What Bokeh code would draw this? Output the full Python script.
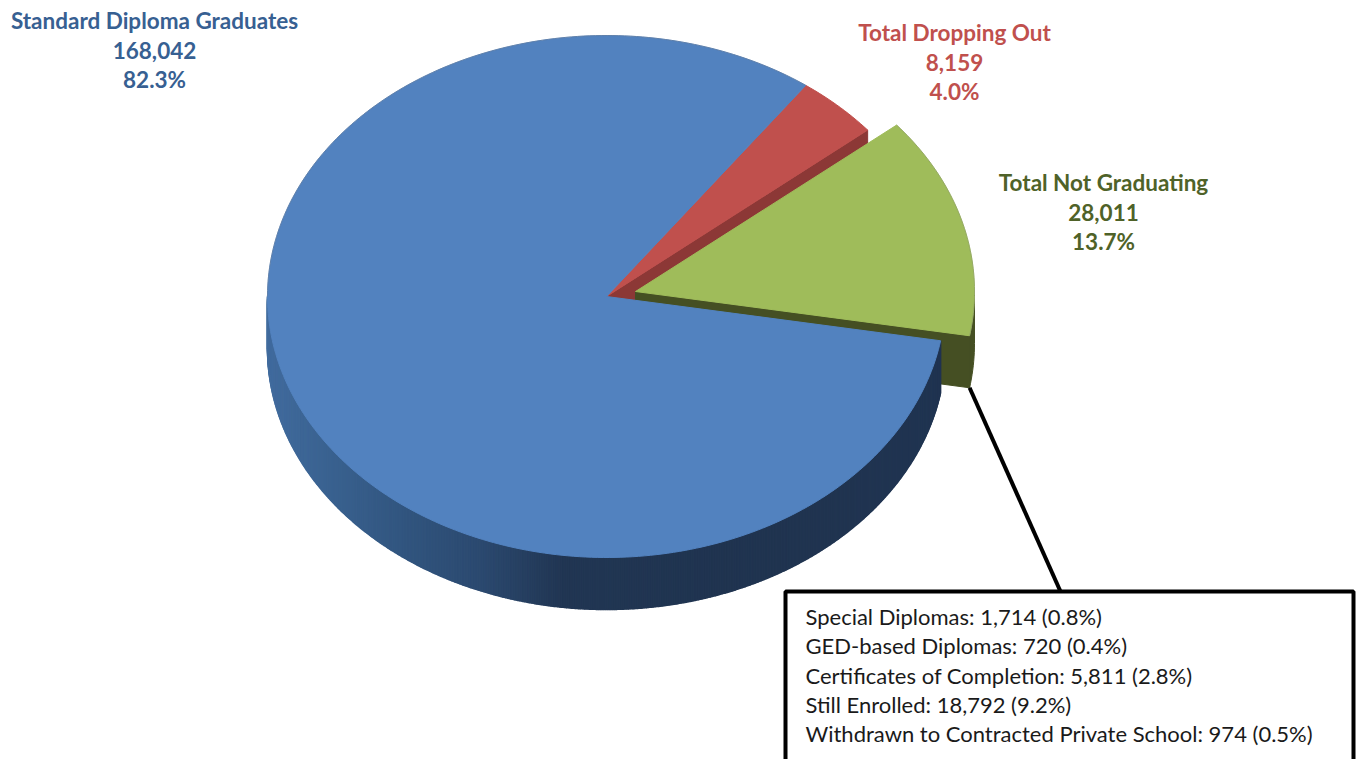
import numpy as np
from bokeh.plotting import figure
from bokeh.models import Range1d
from bokeh.core.properties import value
from bokeh.embed import file_html
from bokeh.resources import INLINE

# ---- data ----
categories = ["Standard Diploma Graduates", "Total Dropping Out", "Total Not Graduating"]
counts = [168042, 8159, 28011]
percents = ["82.3%", "4.0%", "13.7%"]
counts_text = ["168,042", "8,159", "28,011"]
callout_lines = [
    "Special Diplomas: 1,714 (0.8%)",
    "GED-based Diplomas: 720 (0.4%)",
    "Certificates of Completion: 5,811 (2.8%)",
    "Still Enrolled: 18,792 (9.2%)",
    "Withdrawn to Contracted Private School: 974 (0.5%)",
]

# ---- layout & style (page pixels) ----
W, H = 1361, 759
CX, CY, RX, RY, DEPTH = 606, 296, 339, 261, 52
FIRST_ANGLE = 36.0                 # clockwise from top, where the red slice starts
GREEN_SHIFT = (29, -5)
BLUE, RED, GREEN = "#5282bf", "#c0504d", "#9fbc5a"
RED_WALL, GREEN_WALL = "#8c3836", "#454f23"
LABEL_COL = ["#376092", "#c0504d", "#4f6228"]
LABEL_POS = [(154, 20), (954, 32), (1103, 182)]
LINE_GAP = 29.5
RIM_STOPS = [(267, (66, 108, 158)), (330, (58, 98, 144)), (400, (50, 86, 128)), (480, (44, 74, 112)),
             (560, (34, 55, 84)), (760, (32, 52, 80)), (945, (32, 53, 82))]


def pt(deg, cx=CX, cy=CY, dy=0):
    a = np.radians(deg)
    return cx + RX * np.sin(a), cy - RY * np.cos(a) + dy


def arc(a0, a1, cx=CX, cy=CY, dy=0):
    n = max(2, int(abs(a1 - a0)) + 2)
    return pt(np.linspace(a0, a1, n), cx, cy, dy)


def wedge(a0, a1, cx=CX, cy=CY):
    x, y = arc(a0, a1, cx, cy)
    return [cx, *x], [cy, *y]


def rim_col(x):
    xs = [s[0] for s in RIM_STOPS]
    return "#%02x%02x%02x" % tuple(int(np.interp(x, xs, [s[1][i] for s in RIM_STOPS])) for i in range(3))


total = sum(counts)
sweep = [c / total * 360 for c in counts]
red_a0 = FIRST_ANGLE
red_a1 = red_a0 + sweep[1]
green_a0 = red_a1
green_a1 = green_a0 + sweep[2]
blue_a0 = green_a1
blue_a1 = blue_a0 + sweep[0]

p = figure(width=W, height=H, x_range=Range1d(0, W), y_range=Range1d(H, 0),
           x_axis_location=None, y_axis_location=None, toolbar_location=None,
           output_backend="svg", min_border=0, outline_line_color=None,
           background_fill_color="white", border_fill_color="white")
p.grid.visible = False

# red slice: cut face then top
ex, ey = pt(red_a1)
p.patch([CX, ex, ex, CX], [CY, ey, ey + DEPTH, CY + DEPTH], fill_color=RED_WALL, line_color=RED_WALL)
x, y = wedge(red_a0, red_a1)
p.patch(x, y, fill_color=RED, line_color=RED)

# green slice (pulled out): cut face, rim, top
gx, gy = CX + GREEN_SHIFT[0], CY + GREEN_SHIFT[1]
ex, ey = pt(green_a1, gx, gy)
p.patch([gx, ex, ex, gx], [gy, ey, ey + DEPTH, gy + DEPTH], fill_color=GREEN_WALL, line_color=GREEN_WALL)
x0, y0 = arc(90, green_a1, gx, gy)
x1, y1 = arc(green_a1, 90, gx, gy, DEPTH)
p.patch([*x0, *x1], [*y0, *y1], fill_color=GREEN_WALL, line_color=GREEN_WALL)
x, y = wedge(green_a0, green_a1, gx, gy)
p.patch(x, y, fill_color=GREEN, line_color=GREEN)
x, y = arc(green_a0, green_a1, gx, gy)
p.line(x, y, line_color="#7f7f7f", line_alpha=0.3, line_width=1)

# blue slice: shaded rim in strips, then top
rim_angles = np.arange(blue_a0, 270.3, 0.3)
for a, b in zip(rim_angles[:-1], rim_angles[1:]):
    xa, ya = pt(a)
    xb, yb = pt(b)
    c = rim_col((xa + xb) / 2)
    p.patch([xa, xb, xb, xa], [ya, yb, yb + DEPTH, ya + DEPTH], fill_color=c, line_color=c, line_width=1.5)
x, y = wedge(blue_a0, blue_a1)
p.patch(x, y, fill_color=BLUE, line_color=BLUE)
x, y = arc(270, blue_a1)
p.line(x, y, line_color="#7f7f7f", line_alpha=0.3, line_width=1)

# leader and callout box
leader_x0, leader_y0 = pt(green_a1, gx, gy, DEPTH)
p.line([leader_x0, 1060], [leader_y0, 591], line_color="black", line_width=4)
p.quad(left=[785], right=[1353], top=[591], bottom=[800], fill_color="white", line_color="black", line_width=4)

font = value("Lato")
for i, name in enumerate(categories):
    lx, ly = LABEL_POS[i]
    p.text([lx] * 3, [ly, ly + LINE_GAP, ly + 2 * LINE_GAP], text=[name, counts_text[i], percents[i]],
           text_font=font, text_font_style="bold", text_font_size="22.5px", text_color=LABEL_COL[i],
           text_align="center", text_baseline="middle")

p.text([805] * len(callout_lines), [616 + 29.25 * i for i in range(len(callout_lines))], text=callout_lines,
       text_font=font, text_font_size="22px", text_color="#1a1a1a", text_align="left", text_baseline="middle")

open("out.html", "w").write(file_html(p, INLINE))
